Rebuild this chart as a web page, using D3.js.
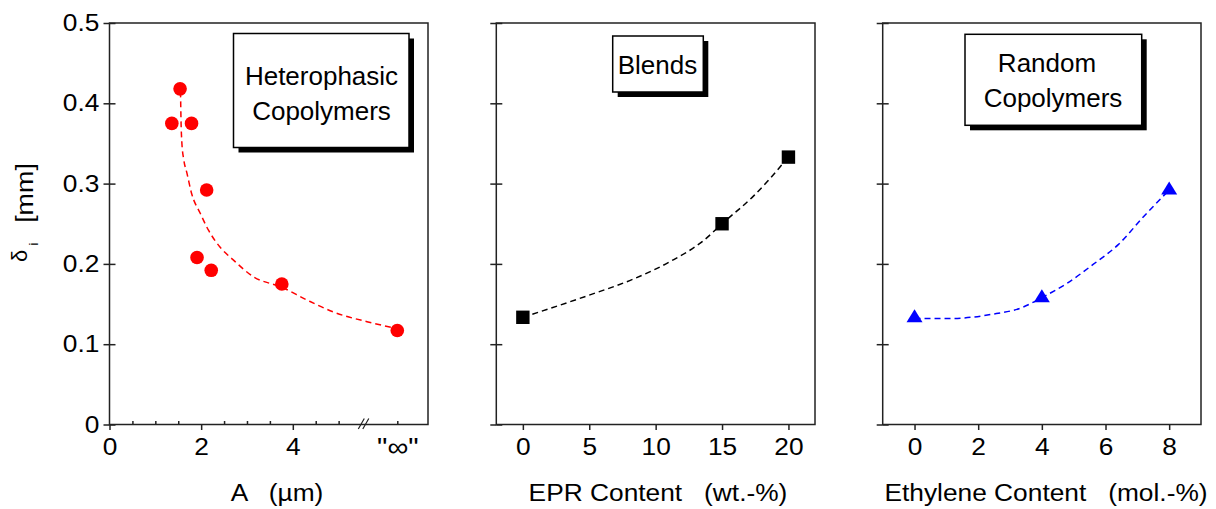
<!DOCTYPE html>
<html>
<head>
<meta charset="utf-8">
<script src="https://cdn.jsdelivr.net/npm/d3@7"></script>
<style>
  body { margin: 0; background: #fff; }
  svg { display: block; font-family: "Liberation Sans", Arial, sans-serif; }
</style>
</head>
<body>
<svg id="chart" width="1216" height="509"></svg>
<script>
// --- data ---
const INF_POS = 6.28;   // where the "∞" column sits on the A axis
const BREAK_POS = 5.56; // axis break marks

const heteroA = [1.36, 1.54, 1.79, 1.91, 2.12, 2.22, 3.76, INF_POS];
const heteroDelta = [0.375, 0.418, 0.375, 0.208, 0.292, 0.192, 0.175, 0.117];
const heteroFitA = [1.55, 1.56, 1.58, 1.62, 1.69, 1.79, 1.98, 2.16, 2.41, 2.70, 3.14, 3.76, 4.31, 4.89, 5.62, 6.24];
const heteroFitDelta = [0.415, 0.380, 0.350, 0.330, 0.313, 0.288, 0.263, 0.242, 0.221, 0.205, 0.184, 0.171, 0.155, 0.140, 0.128, 0.120];

const blendEPR = [0, 15, 20];
const blendDelta = [0.1335, 0.250, 0.333];
const blendFitEPR = [0, 4.8, 8.3, 11.1, 13.6, 15, 17.4, 20];
const blendFitDelta = [0.1335, 0.160, 0.181, 0.203, 0.229, 0.250, 0.285, 0.333];

const randomEth = [0, 4, 8];
const randomDelta = [0.133, 0.158, 0.292];
const randomFitEth = [0, 1.1, 2.4, 3.4, 4, 4.8, 5.6, 6.4, 7.2, 8];
const randomFitDelta = [0.132, 0.132, 0.137, 0.146, 0.158, 0.176, 0.199, 0.224, 0.259, 0.292];

const yTicks = [0, 0.1, 0.2, 0.3, 0.4, 0.5];
const yTickLabels = ['0', '0.1', '0.2', '0.3', '0.4', '0.5'];
const heteroMajor = [0, 2, 4, INF_POS];
const heteroMajorLabels = ['0', '2', '4', '"\u221E"'];
const heteroMinor = [0.5, 1, 1.5, 2.5, 3, 3.5, 4.5, 5, INF_POS];
const blendTicks = [0, 5, 10, 15, 20];
const randomTicks = [0, 2, 4, 6, 8];

const ink = '#222';
const plotTop = 23, plotBottom = 424.5;
const stretch = 'scale(1.12,1)';

const svg = d3.select('#chart');
const y = d3.scaleLinear([0, 0.5], [plotBottom, plotTop]);

const panels = [
  {
    x0: 109.5, x1: 428, xDomain: [0, 6.95],
    title: 'A   (\u00B5m)', titleX: 277, yLabels: true,
    color: '#ff0000', symbol: 'circle',
    xs: heteroA, ys: heteroDelta, fitX: heteroFitA, fitY: heteroFitDelta,
    box: { x: 233.5, y: 33.5, w: 175.5, h: 114 },
    lines: [['Heterophasic', 321.5, 85], ['Copolymers', 321.5, 119.5]],
  },
  {
    x0: 496.3, x1: 815, xDomain: [-2, 22],
    title: 'EPR Content   (wt.-%)', titleX: 658, yLabels: false,
    color: '#000000', symbol: 'square',
    xs: blendEPR, ys: blendDelta, fitX: blendFitEPR, fitY: blendFitDelta,
    ticks: blendTicks,
    box: { x: 612.7, y: 36, w: 90.6, h: 56 },
    lines: [['Blends', 657.5, 74]],
  },
  {
    x0: 882.7, x1: 1201, xDomain: [-1, 9],
    title: 'Ethylene Content   (mol.-%)', titleX: 1046, yLabels: false,
    color: '#0000ff', symbol: 'triangle',
    xs: randomEth, ys: randomDelta, fitX: randomFitEth, fitY: randomFitDelta,
    ticks: randomTicks,
    box: { x: 965, y: 34.3, w: 176.7, h: 91 },
    lines: [['Random', 1047, 72.3], ['Copolymers', 1053, 107.3]],
  },
];

function styleAxis(g) {
  g.select('.domain').remove();
  g.selectAll('.tick line').attr('stroke', ink).attr('stroke-width', 1.5);
  g.selectAll('.tick text')
    .attr('fill', '#000')
    .style('font-size', '23.5px')
    .attr('transform', stretch);
}

function drawPanel(p) {
  const g = svg.append('g');
  const x = d3.scaleLinear(p.xDomain, [p.x0, p.x1]);

  // y ticks cross the left axis
  const yOut = g.append('g').attr('transform', `translate(${p.x0},0)`)
    .call(d3.axisLeft(y).tickValues(yTicks).tickSize(6).tickPadding(3)
      .tickFormat(p.yLabels ? (d, i) => yTickLabels[i] : ''));
  styleAxis(yOut);
  const yIn = g.append('g').attr('transform', `translate(${p.x0},0)`)
    .call(d3.axisLeft(y).tickValues(yTicks).tickSize(-6).tickFormat(''));
  styleAxis(yIn);

  // x ticks
  if (p.ticks) {
    const xa = g.append('g').attr('transform', `translate(0,${plotBottom})`)
      .call(d3.axisBottom(x).tickValues(p.ticks).tickSize(5.5).tickPadding(8));
    styleAxis(xa);
  } else {
    const xa = g.append('g').attr('transform', `translate(0,${plotBottom})`)
      .call(d3.axisBottom(x).tickValues(heteroMajor).tickSize(5.5).tickPadding(8)
        .tickFormat((d, i) => heteroMajorLabels[i]));
    styleAxis(xa);
    const inf = xa.selectAll('.tick').filter(d => d === INF_POS);
    inf.select('line').remove();
    inf.select('text').style('font-size', '26px');
    const xm = g.append('g').attr('transform', `translate(0,${plotBottom})`)
      .call(d3.axisTop(x).tickValues(heteroMinor).tickSize(3.5).tickFormat(''));
    styleAxis(xm);

    // axis break
    const bx = x(BREAK_POS);
    g.append('path')
      .attr('d', `M${bx - 6},${plotBottom + 4.5}L${bx},${plotBottom - 6}M${bx - 1.5},${plotBottom + 4.5}L${bx + 4.5},${plotBottom - 6}`)
      .attr('stroke', ink).attr('stroke-width', 1.2).attr('fill', 'none');
  }

  // frame
  g.append('rect')
    .attr('x', p.x0).attr('y', plotTop)
    .attr('width', p.x1 - p.x0).attr('height', plotBottom - plotTop)
    .attr('fill', 'none').attr('stroke', ink).attr('stroke-width', 1.5);

  // fitted trend (dashed)
  const line = d3.line().x(d => x(d[0])).y(d => y(d[1])).curve(d3.curveMonotoneX);
  g.append('path')
    .datum(d3.zip(p.fitX, p.fitY))
    .attr('d', line)
    .attr('fill', 'none')
    .attr('stroke', p.color)
    .attr('stroke-width', 1.5)
    .attr('stroke-dasharray', '6,4');

  // markers
  const pts = d3.zip(p.xs, p.ys);
  if (p.symbol === 'circle') {
    g.selectAll('circle.pt').data(pts).join('circle')
      .attr('class', 'pt')
      .attr('cx', d => x(d[0])).attr('cy', d => y(d[1]))
      .attr('r', 6.8).attr('fill', p.color);
  } else if (p.symbol === 'square') {
    g.selectAll('rect.pt').data(pts).join('rect')
      .attr('class', 'pt')
      .attr('x', d => x(d[0]) - 6.7).attr('y', d => y(d[1]) - 6.7)
      .attr('width', 13.4).attr('height', 13.4).attr('fill', p.color);
  } else {
    g.selectAll('path.pt').data(pts).join('path')
      .attr('class', 'pt')
      .attr('d', d => {
        const cx = x(d[0]), cy = y(d[1]);
        return `M${cx},${cy - 8.5}L${cx + 8},${cy + 4.5}L${cx - 8},${cy + 4.5}Z`;
      })
      .attr('fill', p.color);
  }

  // label box with drop shadow
  const b = p.box;
  g.append('rect').attr('x', b.x + 5).attr('y', b.y + 5).attr('width', b.w).attr('height', b.h).attr('fill', '#000');
  g.append('rect').attr('x', b.x).attr('y', b.y).attr('width', b.w).attr('height', b.h)
    .attr('fill', '#fff').attr('stroke', '#000').attr('stroke-width', 1.5);
  g.selectAll('text.boxlabel').data(p.lines).join('text')
    .attr('class', 'boxlabel')
    .attr('x', d => d[1]).attr('y', d => d[2])
    .attr('text-anchor', 'middle')
    .style('font-size', '26px')
    .text(d => d[0]);

  // x axis title
  g.append('text')
    .attr('transform', `translate(${p.titleX},501) ${stretch}`)
    .attr('text-anchor', 'middle')
    .style('font-size', '23.5px')
    .style('white-space', 'pre')
    .text(p.title);
}

panels.forEach(drawPanel);

// y axis title: delta_i [mm]
svg.append('text')
  .attr('transform', 'translate(27,262) rotate(-90)')
  .style('font-size', '22px')
  .text('\u03B4');
svg.append('text')
  .attr('transform', 'translate(38,244) rotate(-90)')
  .attr('text-anchor', 'middle')
  .style('font-size', '13px')
  .text('i');
svg.append('text')
  .attr('transform', 'translate(32.5,193) rotate(-90) ' + stretch)
  .attr('text-anchor', 'middle')
  .style('font-size', '24px')
  .text('[mm]');
</script>
</body>
</html>
